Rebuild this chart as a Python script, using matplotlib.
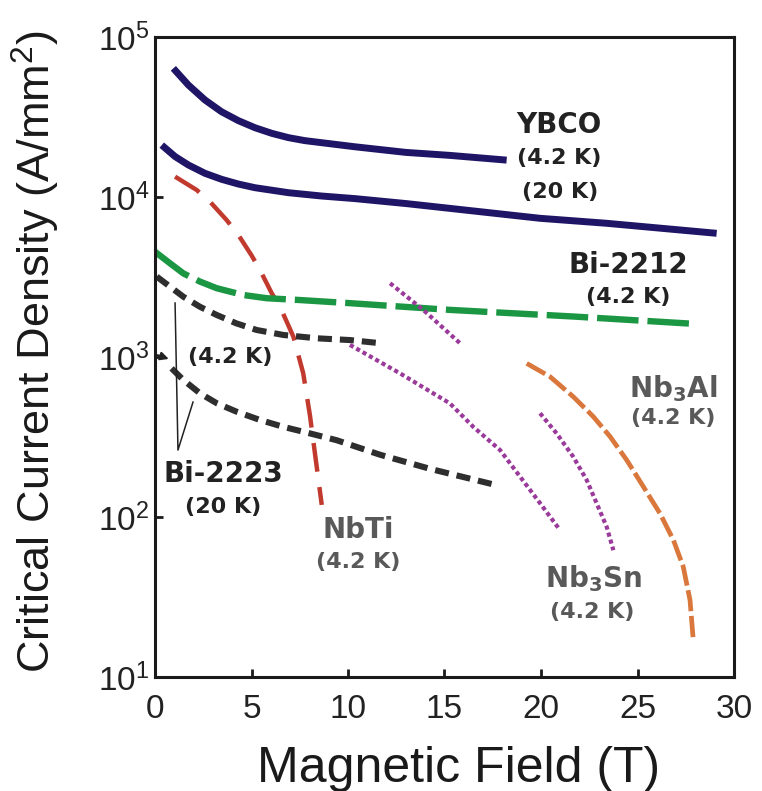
import matplotlib
matplotlib.use("Agg")
import matplotlib.pyplot as plt
from matplotlib.ticker import FixedLocator, FixedFormatter, NullLocator

# ---------------- data ----------------
ybco42_x = [0.95, 1.73, 2.59, 3.45, 4.32, 5.18, 6.05, 6.91, 7.77, 10.36, 13.0, 15.28, 18.22]
ybco42_y = [63700, 50100, 40400, 34100, 30000, 27100, 25000, 23500, 22500, 20600, 19000, 18200, 17000]

ybco20_x = [0.35, 1.04, 1.73, 2.59, 3.45, 4.32, 5.18, 6.91, 8.64, 10.36, 13.0, 15.28, 19.95, 23.4, 29.1]
ybco20_y = [21100, 17900, 15850, 14060, 12900, 12050, 11430, 10640, 10140, 9770, 9100, 8490, 7360, 6850, 5930]

nbti_x = [1.04, 2.16, 2.85, 3.71, 4.32, 5.01, 5.44, 6.05, 6.48, 7.17, 7.68, 8.03, 8.25, 8.64]
nbti_y = [13400, 11060, 9340, 7180, 5790, 4300, 3500, 2500, 2060, 1340, 791, 430, 270, 119]

bi2212_x = [0.0, 0.78, 1.47, 2.33, 3.20, 4.58, 5.79, 7.51, 10.1, 15.28, 21.7, 27.98]
bi2212_y = [4550, 3850, 3330, 2960, 2690, 2440, 2330, 2270, 2170, 1970, 1790, 1610]

bi2223_42_x = [0.09, 0.78, 1.47, 2.33, 3.20, 4.23, 5.27, 6.65, 8.38, 10.1, 11.66]
bi2223_42_y = [3180, 2750, 2380, 2060, 1830, 1620, 1475, 1373, 1309, 1276, 1220]

bi2223_20_x = [0.86, 1.47, 2.33, 3.20, 4.23, 5.44, 6.65, 8.03, 9.41, 11.66, 14.25, 17.7]
bi2223_20_y = [849, 718, 593, 514, 455, 404, 366, 333, 302, 245, 200, 158]

nb3sn_a_x = [12.18, 13.9, 15.8]
nb3sn_a_y = [2890, 1970, 1220]

nb3sn_b_x = [10.1, 12.69, 15.28, 16.49, 17.88, 18.91, 19.95, 20.98]
nb3sn_b_y = [1190, 791, 513, 366, 262, 179, 122, 83]

nb3sn_c_x = [19.95, 20.81, 21.67, 22.37, 22.88, 23.4, 23.75]
nb3sn_c_y = [445, 333, 238, 170, 122, 87, 62]

nb3al_x = [19.26, 20.47, 21.67, 22.71, 23.58, 24.44, 25.30, 26.17, 26.86, 27.37, 27.72, 27.89]
nb3al_y = [912, 753, 565, 424, 318, 227, 155, 105, 71.8, 48.9, 30.3, 17]

x_ticks = [0, 5, 10, 15, 20, 25, 30]
y_ticks = [10, 100, 1000, 10000, 100000]
y_tick_labels = [r'$\mathregular{10^{1}}$', r'$\mathregular{10^{2}}$', r'$\mathregular{10^{3}}$',
                 r'$\mathregular{10^{4}}$', r'$\mathregular{10^{5}}$']

# ---------------- style ----------------
plt.rcParams['font.family'] = ['Liberation Sans', 'DejaVu Sans']
plt.rcParams['mathtext.fontset'] = 'dejavusans'

fig = plt.figure(figsize=(7.62, 7.91), dpi=100)
ax = fig.add_axes([155/762, 1-677/791, (734-155)/762, (677-37)/791])
ax.set_yscale('log')
ax.set_xlim(0, 30)
ax.set_ylim(10, 100000)

navy = '#1f1566'
red = '#c23a2e'
green = '#1b9643'
black = '#2e2e2e'
mag = '#9a3a9a'
orange = '#d9773c'

common = dict(solid_joinstyle='round', dash_joinstyle='round')
ax.plot(ybco42_x, ybco42_y, color=navy, lw=5.0, solid_capstyle='butt', **common)
ax.plot(ybco20_x, ybco20_y, color=navy, lw=5.0, solid_capstyle='butt', **common)
ax.plot(nbti_x, nbti_y, color=red, lw=3.2, linestyle=(0, (6.5, 3.5)), **common)
ax.plot(bi2212_x, bi2212_y, color=green, lw=4.6, linestyle=(0, (6.5, 1.4)), **common)
ax.plot(bi2223_42_x, bi2223_42_y, color=black, lw=4.4, linestyle=(0, (2.3, 1.3)), **common)
ax.plot(bi2223_20_x, bi2223_20_y, color=black, lw=4.4, linestyle=(0, (2.3, 1.3)), **common)
for xs, ys in [(nb3sn_a_x, nb3sn_a_y), (nb3sn_b_x, nb3sn_b_y), (nb3sn_c_x, nb3sn_c_y)]:
    ax.plot(xs, ys, color=mag, lw=3.0, linestyle=(0, (1.0, 0.75)), **common)
ax.plot(nb3al_x, nb3al_y, color=orange, lw=3.4, linestyle=(0, (4.5, 1.0)), **common)

# Bi-2223 pointer lines
ax.plot([1.04, 1.19, 1.97], [2175, 262, 523], color='#222222', lw=1.1)
ax.annotate('', xy=(0.85, 960), xytext=(0.0, 1040),
            arrowprops=dict(arrowstyle='-|>', color='#222222', lw=1.5, mutation_scale=12))

# labels
dk = '#222222'
gr = '#595959'
nm = 20
tp = 16
def lab(x, y, s, size, color):
    ax.text(x, y, s, ha='center', va='center', fontsize=size, color=color,
            family='DejaVu Sans', fontweight='bold')

lab(20.93, 28200, 'YBCO', nm, dk)
lab(20.93, 17450, '(4.2 K)', tp, dk)
lab(20.98, 10800, '(20 K)', tp, dk)
lab(24.53, 3760, 'Bi-2212', nm, dk)
lab(24.53, 2385, '(4.2 K)', tp, dk)
lab(3.89, 1005, '(4.2 K)', tp, dk)
lab(3.54, 187, 'Bi-2223', nm, dk)
lab(3.54, 116, '(20 K)', tp, dk)
lab(10.54, 83, 'NbTi', nm, gr)
lab(10.54, 52.5, '(4.2 K)', tp, gr)
lab(22.71, 41.4, r'$\mathbf{Nb_3Sn}$', nm, gr)
lab(22.63, 25.6, '(4.2 K)', tp, gr)
lab(26.86, 631, r'$\mathbf{Nb_3Al}$', nm, gr)
lab(26.86, 414, '(4.2 K)', tp, gr)

# axes styling
for sp in ax.spines.values():
    sp.set_linewidth(2.2)
    sp.set_color('#1a1a1a')
ax.xaxis.set_major_locator(FixedLocator(x_ticks))
ax.yaxis.set_major_locator(FixedLocator(y_ticks))
ax.yaxis.set_major_formatter(FixedFormatter(y_tick_labels))
ax.yaxis.set_minor_locator(NullLocator())
ax.tick_params(axis='both', which='major', direction='in', length=6, width=2, color='#1a1a1a')
ax.tick_params(axis='x', labelsize=24, pad=12)
ax.tick_params(axis='y', labelsize=24, pad=4)
for t in ax.get_xticklabels() + ax.get_yticklabels():
    t.set_color('#222222')

ax.set_xlabel('Magnetic Field (T)', fontsize=36, color='#1a1a1a')
ax.xaxis.set_label_coords(0.525, -0.108)
ax.set_ylabel(r'Critical Current Density (A/mm$\mathregular{^2}$)', fontsize=32.5, color='#1a1a1a')
ax.yaxis.set_label_coords(-0.161, 0.508)

fig.savefig('out.png', dpi=100)
